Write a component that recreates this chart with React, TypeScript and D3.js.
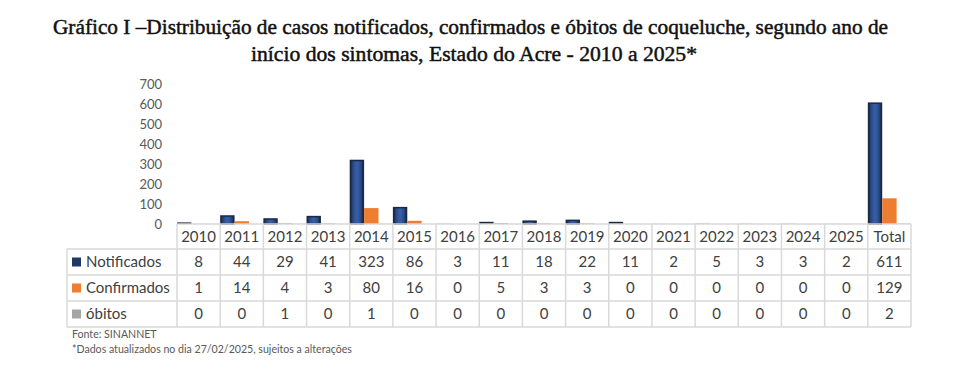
import React from 'react'
import * as d3 from 'd3'

// data
const categories = ['2010', '2011', '2012', '2013', '2014', '2015', '2016', '2017', '2018', '2019', '2020', '2021', '2022', '2023', '2024', '2025', 'Total']
const notificados = [8, 44, 29, 41, 323, 86, 3, 11, 18, 22, 11, 2, 5, 3, 3, 2, 611]
const confirmados = [1, 14, 4, 3, 80, 16, 0, 5, 3, 3, 0, 0, 0, 0, 0, 0, 129]
const obitos = [0, 0, 1, 0, 1, 0, 0, 0, 0, 0, 0, 0, 0, 0, 0, 0, 2]
const seriesNames = ['Notificados', 'Confirmados', 'óbitos']
const yTicks = [0, 100, 200, 300, 400, 500, 600, 700]

const titleLine1 = 'Gráfico I –Distribuição de casos notificados, confirmados e óbitos de coqueluche, segundo ano de'
const titleLine2 = 'início dos sintomas, Estado do Acre - 2010 a 2025*'

const W = 956
const H = 374
const gridColor = '#d9d9d9'
const textColor = '#404040'
const font = 'Lato, "Open Sans", sans-serif'

const colors = ['url(#navyGrad)', '#ed7d31', '#a5a5a5']
const legendColors = ['#1f3864', '#ed7d31', '#a5a5a5']

export default function App() {
  const series = [notificados, confirmados, obitos]

  const x = d3.scaleBand().domain(categories).range([177, 911]).padding(0)
  const xs = d3.scaleBand().domain(seriesNames).range([0, x.bandwidth()]).padding(0)
  const y = d3.scaleLinear().domain([0, 700]).range([224, 84.7])

  const headerTop = 224
  const headerBottom = 249
  const rowH = 26
  const tableLeft = 67
  const tableRight = 911
  const rowLines = [headerBottom, headerBottom + rowH, headerBottom + 2 * rowH, headerBottom + 3 * rowH]

  return (
    <svg width={W} height={H} style={{ position: 'absolute', left: 0, top: 0, background: '#fff' }}>
      <defs>
        <linearGradient id="navyGrad" x1="0" x2="1" y1="0" y2="0">
          <stop offset="0" stopColor="#1b2a4a" />
          <stop offset="0.25" stopColor="#2c4f8f" />
          <stop offset="0.5" stopColor="#3660aa" />
          <stop offset="0.75" stopColor="#2c4f8f" />
          <stop offset="1" stopColor="#1b2a4a" />
        </linearGradient>
      </defs>

      {/* title */}
      <g fontFamily='"Liberation Serif", serif' fontSize={20} fill="#111" stroke="#111" strokeWidth={0.45} textAnchor="middle">
        <text x={470.5} y={34} textLength={835} lengthAdjust="spacingAndGlyphs">{titleLine1}</text>
        <text x={474} y={61} textLength={446} lengthAdjust="spacingAndGlyphs">{titleLine2}</text>
      </g>

      {/* y axis labels */}
      <g fontFamily={font} fontSize={13} fill="#595959" textAnchor="end">
        {yTicks.map(t => (
          <text key={t} x={162} y={y(t)} dy="0.35em">{t}</text>
        ))}
      </g>

      {/* bars */}
      {series.map((vals, si) => (
        <g key={si}>
          {vals.map((v, i) => {
            const bx = (x(categories[i]) as number) + (xs(seriesNames[si]) as number)
            const h = y(0) - y(v)
            if (h <= 0) return null
            if (si === 0 && h <= 3) {
              // very short bars: the dark edge shading covers the whole bar
              return (
                <rect key={i} x={bx} y={y(v)} width={xs.bandwidth()} height={h}
                  fill={h < 1.2 ? '#c5cbd8' : '#1a2745'} />
              )
            }
            const outlined = si === 0
            return (
              <rect key={i} x={bx + (outlined ? 0.75 : 0)} y={y(v) + (outlined ? 0.75 : 0)}
                width={xs.bandwidth() - (outlined ? 1.5 : 0)} height={h - (outlined ? 0.75 : 0)}
                fill={colors[si]}
                stroke={outlined ? '#1a2745' : 'none'} strokeWidth={outlined ? 1.5 : 0} />
            )
          })}
        </g>
      ))}

      {/* table grid */}
      <g stroke={gridColor} strokeWidth={1.5} fill="none">
        <line x1={x(categories[0])} x2={tableRight} y1={headerTop} y2={headerTop} />
        {rowLines.map(ly => (
          <line key={ly} x1={tableLeft} x2={tableRight} y1={ly} y2={ly} />
        ))}
        <line x1={tableLeft} x2={tableLeft} y1={headerBottom} y2={rowLines[3]} />
        {categories.map(c => (
          <line key={c} x1={x(c)} x2={x(c)} y1={headerTop} y2={rowLines[3]} />
        ))}
        <line x1={tableRight} x2={tableRight} y1={headerTop} y2={rowLines[3]} />
      </g>

      {/* header */}
      <g fontFamily={font} fontSize={15} fill={textColor} textAnchor="middle">
        {categories.map(c => (
          <text key={c} x={(x(c) as number) + x.bandwidth() / 2} y={(headerTop + headerBottom) / 2} dy="0.35em">{c}</text>
        ))}
      </g>

      {/* rows */}
      {series.map((vals, si) => {
        const cy = headerBottom + rowH * si + rowH / 2
        return (
          <g key={si} fontFamily={font} fontSize={15} fill={textColor}>
            <rect x={72} y={cy - 4.5} width={9} height={9} fill={legendColors[si]} />
            <text x={86} y={cy} dy="0.35em">{seriesNames[si]}</text>
            {vals.map((v, i) => (
              <text key={i} x={(x(categories[i]) as number) + x.bandwidth() / 2} y={cy} dy="0.35em" textAnchor="middle">{v}</text>
            ))}
          </g>
        )
      })}

      {/* footer */}
      <g fontFamily={font} fontSize={10.6} fill="#595959">
        <text x={72} y={334} dy="0.35em">Fonte: SINANNET</text>
        <text x={72} y={349} dy="0.35em">*Dados atualizados no dia 27/02/2025, sujeitos a alterações</text>
      </g>
    </svg>
  )
}
